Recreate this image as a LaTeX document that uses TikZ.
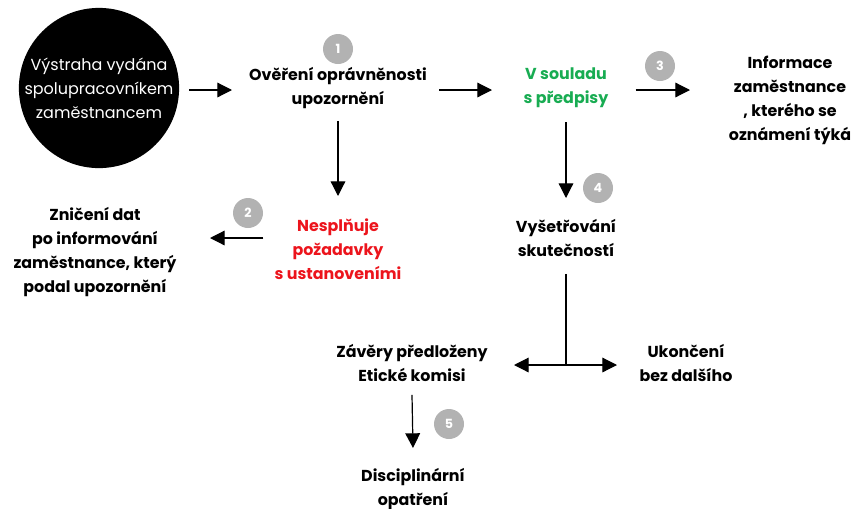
\documentclass[tikz,border=0pt]{standalone}
\usepackage{fontspec}
\setmainfont{Poppins}
\usetikzlibrary{arrows.meta}
\definecolor{okgreen}{RGB}{24,172,82}
\definecolor{badred}{RGB}{236,20,28}
\definecolor{badgegray}{RGB}{178,178,178}
\tikzset{
  lbl/.style={align=center,font=\bfseries\fontsize{11.9}{18}\selectfont,inner sep=0pt},
  badge/.style={circle,fill=badgegray,text=white,minimum size=22.5pt,inner sep=0pt,font=\bfseries\fontsize{9.5}{9.5}\selectfont},
  arr/.style={line width=0.9pt,-{Triangle[length=11pt,width=11pt]}},
  dbl/.style={line width=0.9pt,{Triangle[length=11pt,width=11pt]}-{Triangle[length=11pt,width=11pt]}},
  plain/.style={line width=0.9pt},
}
\begin{document}
\begin{tikzpicture}[x=0.75pt,y=-0.75pt]
\useasboundingbox (0,0) rectangle (854,508);
% start circle
\node[circle,fill=black,minimum size=111pt,inner sep=0pt,text=white,align=center,
  font=\fontsize{12}{18}\selectfont] (start) at (99,88) {Výstraha vydána\\spolupracovníkem\\zaměstnancem};
% nodes
\node[lbl] (check) at (338,88) {Ověření oprávněnosti\\upozornění};
\node[lbl,text=okgreen] (ok) at (566,88) {V souladu\\s předpisy};
\node[lbl] (inform) at (790,100) {Informace\\zaměstnance\\, kterého se\\oznámení týká};
\node[lbl,text=badred] (notok) at (338,249) {Nesplňuje\\požadavky\\s ustanoveními};
\node[lbl] (destroy) at (95,252) {Zničení dat\\po informování\\zaměstnance, který\\podal upozornění};
\node[lbl] (invest) at (566,238) {Vyšetřování\\skutečností};
\node[lbl] (ethics) at (412,363) {Závěry předloženy\\Etické komisi};
\node[lbl] (endn) at (686,363) {Ukončení\\bez dalšího};
\node[lbl] (disc) at (413,489) {Disciplinární\\opatření};
% badges
\node[badge] (b1) at (338,49) {1};
\node[badge] (b2) at (248,213) {2};
\node[badge] (b3) at (660,66) {3};
\node[badge] (b4) at (598,188) {4};
\node[badge] (b5) at (449,424) {5};
% helper coordinates
\coordinate (junc) at (566,365);
\coordinate (jl) at (514,365);
\coordinate (jr) at (617,365);
% connectors
\draw[arr] (start.east |- 0,90) ++(10,0) coordinate (s1) -- (s1 -| 232,0);
\draw[arr] (check.east |- 0,90) ++(12,0) coordinate (s2) -- (s2 -| 492,0);
\draw[arr] (ok.east |- 0,90) ++(27,0) coordinate (s3) -- (s3 -| 690,0);
\draw[arr] (check.south) ++(0,12) -- (338,196);
\draw[arr] (notok.west |- 0,238) ++(-11,0) -- (210,238);
\draw[arr] (ok.south) ++(0,14) -- (566,198);
\draw[plain] (invest.south) ++(0,17) -- (junc);
\draw[dbl] (jl) -- (jr);
\draw[arr] (ethics.south) ++(0,13) -- (413,448);
\end{tikzpicture}
\end{document}
